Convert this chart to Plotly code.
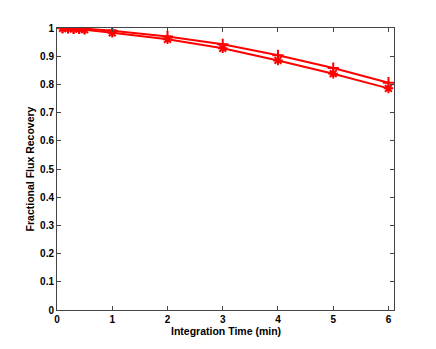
import plotly.graph_objects as go

time_min = [0.1, 0.2, 0.3, 0.4, 0.5, 1, 2, 3, 4, 5, 6]
recovery_plus = [1.0, 1.0, 0.999, 0.999, 0.998, 0.99, 0.97, 0.942, 0.903, 0.858, 0.806]
recovery_star = [0.999, 0.998, 0.997, 0.996, 0.994, 0.983, 0.96, 0.928, 0.885, 0.838, 0.786]

x_ticks = [0, 1, 2, 3, 4, 5, 6]
y_ticks = [0, 0.1, 0.2, 0.3, 0.4, 0.5, 0.6, 0.7, 0.8, 0.9, 1]
y_labels = ["0", "0.1", "0.2", "0.3", "0.4", "0.5", "0.6", "0.7", "0.8", "0.9", "1"]

fig = go.Figure()
fig.add_trace(go.Scatter(x=time_min, y=recovery_plus, mode="lines+markers",
                         line=dict(color="red", width=2),
                         marker=dict(symbol="cross-thin-open", size=8,
                                     line=dict(color="red", width=2))))
fig.add_trace(go.Scatter(x=time_min, y=recovery_star, mode="lines+markers",
                         line=dict(color="red", width=2),
                         marker=dict(symbol="asterisk-open", size=8,
                                     line=dict(color="red", width=2))))

tick_font = dict(size=10, color="black", family="Liberation Sans", weight="bold")
title_font = dict(size=10.5, color="black", family="Liberation Sans", weight="bold")
axis_style = dict(showgrid=False, zeroline=False, showline=True, mirror="ticks",
                  linecolor="#444", linewidth=1, ticks="inside", ticklen=4,
                  tickcolor="#444", tickfont=tick_font)
fig.update_xaxes(range=[0, 6.1], tickvals=x_ticks, **axis_style)
fig.update_yaxes(range=[0, 1], tickvals=y_ticks, ticktext=y_labels, **axis_style,
                 title=dict(text="Fractional Flux Recovery", standoff=3, font=title_font))
# x title placed by hand, a bit tighter than plotly's standoff allows
fig.add_annotation(text="Integration Time (min)", xref="paper", yref="paper",
                   x=0.5, y=-0.074, yanchor="middle", showarrow=False, font=title_font)
# page body has an 8px margin, so shrink the figure to fit the window
fig.update_layout(width=428, height=341, showlegend=False,
                  plot_bgcolor="white", paper_bgcolor="white",
                  margin=dict(l=49, r=42, t=20, b=39))
fig.write_html("out.html")
